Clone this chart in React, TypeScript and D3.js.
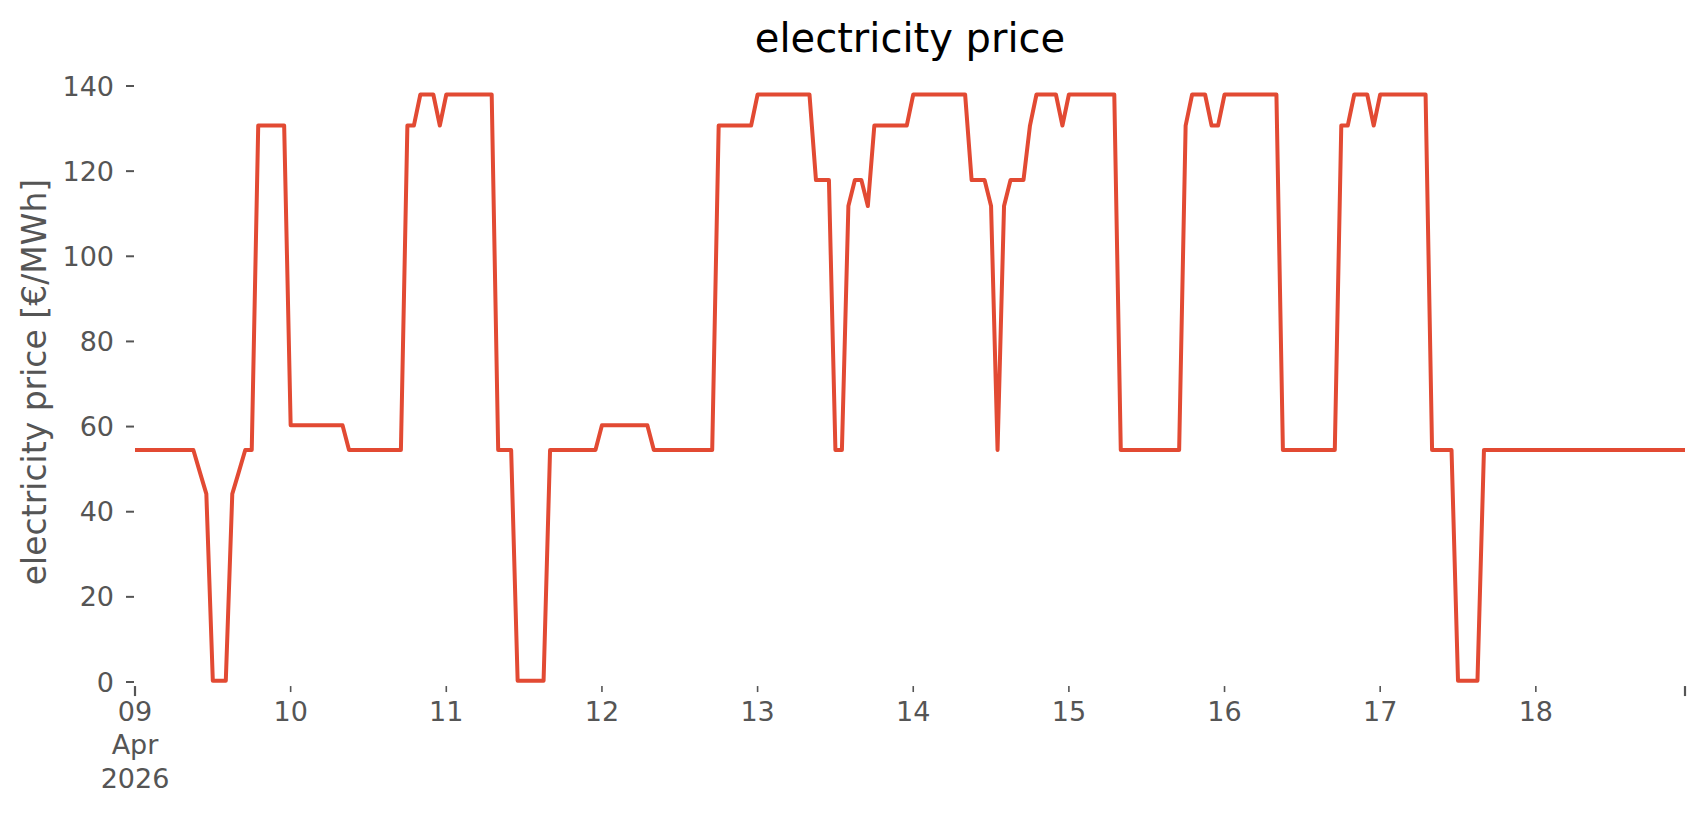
import React from "react";
import * as d3 from "d3";

// hourly electricity price [€/MWh], one array per day (00:00 .. 23:00)
const apr09 = [54.5, 54.5, 54.5, 54.5, 54.5, 54.5, 54.5, 54.5, 54.5, 54.5, 49.3, 44.2, 0.3, 0.3, 0.3, 44.2, 49.3, 54.5, 54.5, 130.7, 130.7, 130.7, 130.7, 130.7];
const apr10 = [60.3, 60.3, 60.3, 60.3, 60.3, 60.3, 60.3, 60.3, 60.3, 54.5, 54.5, 54.5, 54.5, 54.5, 54.5, 54.5, 54.5, 54.5, 130.7, 130.7, 138, 138, 138, 130.7];
const apr11 = [138, 138, 138, 138, 138, 138, 138, 138, 54.5, 54.5, 54.5, 0.3, 0.3, 0.3, 0.3, 0.3, 54.5, 54.5, 54.5, 54.5, 54.5, 54.5, 54.5, 54.5];
const apr12 = [60.3, 60.3, 60.3, 60.3, 60.3, 60.3, 60.3, 60.3, 54.5, 54.5, 54.5, 54.5, 54.5, 54.5, 54.5, 54.5, 54.5, 54.5, 130.7, 130.7, 130.7, 130.7, 130.7, 130.7];
const apr13 = [138, 138, 138, 138, 138, 138, 138, 138, 138, 117.9, 117.9, 117.9, 54.5, 54.5, 111.8, 117.9, 117.9, 111.8, 130.7, 130.7, 130.7, 130.7, 130.7, 130.7];
const apr14 = [138, 138, 138, 138, 138, 138, 138, 138, 138, 117.9, 117.9, 117.9, 111.8, 54.5, 111.8, 117.9, 117.9, 117.9, 130.7, 138, 138, 138, 138, 130.7];
const apr15 = [138, 138, 138, 138, 138, 138, 138, 138, 54.5, 54.5, 54.5, 54.5, 54.5, 54.5, 54.5, 54.5, 54.5, 54.5, 130.7, 138, 138, 138, 130.7, 130.7];
const apr16 = [138, 138, 138, 138, 138, 138, 138, 138, 138, 54.5, 54.5, 54.5, 54.5, 54.5, 54.5, 54.5, 54.5, 54.5, 130.7, 130.7, 138, 138, 138, 130.7];
const apr17 = [138, 138, 138, 138, 138, 138, 138, 138, 54.5, 54.5, 54.5, 54.5, 0.3, 0.3, 0.3, 0.3, 54.5, 54.5, 54.5, 54.5, 54.5, 54.5, 54.5, 54.5];
const apr18 = [54.5, 54.5, 54.5, 54.5, 54.5, 54.5, 54.5, 54.5, 54.5, 54.5, 54.5, 54.5, 54.5, 54.5, 54.5, 54.5, 54.5, 54.5, 54.5, 54.5, 54.5, 54.5, 54.5, 54.5];

const days = [apr09, apr10, apr11, apr12, apr13, apr14, apr15, apr16, apr17, apr18];
const startDate = new Date(Date.UTC(2026, 3, 9, 0));
const yTicks = [0, 20, 40, 60, 80, 100, 120, 140];
const title = "electricity price";
const yLabel = "electricity price [€/MWh]";

type Pt = { t: Date; v: number };
const series: Pt[] = [];
days.forEach((vals, d) =>
  vals.forEach((v, h) => {
    series.push({ t: d3.utcHour.offset(startDate, d * 24 + h), v });
  })
);

const W = 1706;
const H = 815;
const FONT = "'DejaVu Sans', sans-serif";
const TICK_COLOR = "#555555";
const LINE_COLOR = "#E24A33";

export default function App() {
  const x = d3
    .scaleUtc()
    .domain(d3.extent(series, (d) => d.t) as [Date, Date])
    .range([135, 1685]);
  const y = d3.scaleLinear().domain([0, 140]).range([682, 86]);
  const axisBottom = y(-0.95);

  const line = d3
    .line<Pt>()
    .x((d) => x(d.t))
    .y((d) => y(d.v));

  const dayTicks = d3.utcDay.range(startDate, d3.utcDay.offset(startDate, 10));
  const endTick = x.domain()[1];
  const fmtDay = d3.utcFormat("%d");
  const fmtMon = d3.utcFormat("%b");
  const fmtYear = d3.utcFormat("%Y");

  return (
    <svg
      width={W}
      height={H}
      style={{ position: "absolute", left: 0, top: 0, display: "block", background: "#ffffff" }}
      fontFamily={FONT}
    >
      <rect x={0} y={0} width={W} height={H} fill="#ffffff" />
      <text x={910} y={38} textAnchor="middle" dominantBaseline="central" fontSize={40} fill="#000000">
        {title}
      </text>
      <text
        transform={`translate(34, ${(y(0) + y(140)) / 2 - 2}) rotate(-90)`}
        textAnchor="middle"
        dominantBaseline="central"
        fontSize={33}
        fill={TICK_COLOR}
      >
        {yLabel}
      </text>

      {yTicks.map((t) => (
        <g key={"y" + t}>
          <line x1={126} x2={134} y1={y(t)} y2={y(t)} stroke={TICK_COLOR} strokeWidth={2} />
          <text x={114} y={y(t)} textAnchor="end" dominantBaseline="central" fontSize={27} fill={TICK_COLOR}>
            {t}
          </text>
        </g>
      ))}

      {dayTicks.map((t, i) => {
        const xp = x(t);
        const major = i === 0;
        return (
          <g key={"x" + i}>
            <line
              x1={xp}
              x2={xp}
              y1={axisBottom}
              y2={axisBottom + (major ? 10 : 6)}
              stroke={TICK_COLOR}
              strokeWidth={major ? 2.2 : 1.6}
            />
            <text x={xp} y={711} textAnchor="middle" dominantBaseline="central" fontSize={27} fill={TICK_COLOR}>
              {fmtDay(t)}
            </text>
            {major && (
              <>
                <text x={xp} y={744} textAnchor="middle" dominantBaseline="central" fontSize={27} fill={TICK_COLOR}>
                  {fmtMon(t)}
                </text>
                <text x={xp} y={778} textAnchor="middle" dominantBaseline="central" fontSize={27} fill={TICK_COLOR}>
                  {fmtYear(t)}
                </text>
              </>
            )}
          </g>
        );
      })}
      <line
        x1={x(endTick)}
        x2={x(endTick)}
        y1={axisBottom}
        y2={axisBottom + 10}
        stroke={TICK_COLOR}
        strokeWidth={2.2}
      />

      <path
        d={line(series) || ""}
        fill="none"
        stroke={LINE_COLOR}
        strokeWidth={4}
        strokeLinejoin="round"
        strokeLinecap="butt"
      />
    </svg>
  );
}
